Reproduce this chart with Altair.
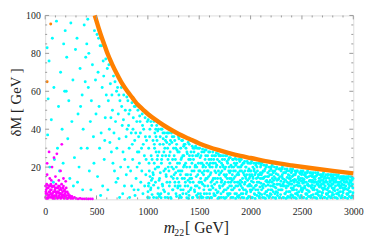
import altair as alt
import pandas as pd

# ---- data ----
cyan_points = [
    (19,83),(38,76),(29,56),(24,37),(70,88),(85,62),(60,45),(90,24),(45,20),(80,12),
    (110,97),(150,70),(130,52),(180,85),(165,40),(120,30),(190,60),(140,18),(175,22),(195,92),
    (210,78),(230,55),(250,96),(270,66),(220,35),(260,44),(285,25),(240,14),(295,82),(275,10),(205,60),
    (310,88),(320,48),(340,72),(360,58),(380,95),(350,30),(330,20),(370,40),(390,65),(315,12),(365,8),(395,78),(345,52),
    (405,85),(420,62),(440,44),(460,74),(480,92),(410,30),(430,18),(450,55),(470,36),(490,66),(415,98),(445,8),(475,22),(495,48),(425,80),
    (505,90),(515,70),(525,52),(535,84),(545,38),(555,62),(565,76),(575,24),(585,46),(595,58),(510,15),(530,30),(550,84),(560,10),(570,68),(590,77),(540,5),(580,34),(520,88),
    (605,72),(615,55),(625,40),(635,64),(645,28),(655,50),(665,68),(675,18),(685,44),(695,60),(610,8),(630,33),(650,58),(660,22),(670,38),(690,12),(620,74),(640,46),(680,65),(698,30),
    (705,62),(712,48),(720,35),(728,55),(735,20),(742,62),(750,42),(758,28),(765,58),(772,10),(780,50),(788,36),(795,57),(708,14),(725,4),(745,52),(762,45),(775,24),(790,16),(798,40),(718,58),(755,6),
    (805,55),(812,42),(818,30),(825,50),(832,18),(838,38),(845,54),(852,24),(858,46),(865,8),(872,34),(878,52),(885,14),(892,44),(898,28),(808,20),(822,4),(842,10),(855,40),(868,52),(882,38),(895,20),(815,48),(848,32),(875,5),
    (903,50),(910,36),(917,22),(924,44),(931,12),(938,30),(945,48),(952,6),(959,40),(966,26),(973,46),(980,16),(987,34),(994,44),(906,8),(913,28),(927,38),(941,18),(955,32),(969,10),(983,24),(997,4),(920,47),(948,42),(976,36),
    (1003,45),(1008,30),(1014,18),(1020,40),(1026,8),(1032,26),(1038,42),(1044,14),(1050,34),(1056,4),(1062,22),(1068,38),(1074,12),(1080,28),(1086,42),(1092,20),(1098,6),(1005,10),(1017,36),(1029,44),(1041,24),(1053,16),(1065,30),(1077,40),(1089,34),(1095,26),(1011,22),(1059,44),
    (1103,40),(1108,28),(1114,14),(1120,36),(1126,6),(1132,22),(1138,40),(1144,10),(1150,32),(1156,18),(1162,38),(1168,4),(1174,26),(1180,36),(1186,12),(1192,30),(1198,20),(1105,20),(1117,32),(1129,40),(1141,26),(1153,8),(1165,30),(1177,16),(1189,38),(1111,4.5),(1147,38),(1171,34),
    (1203,38),(1208,26),(1214,12),(1220,34),(1226,3.5),(1232,20),(1238,36),(1244,8),(1250,30),(1256,16),(1262,34),(1268,24),(1274,6),(1280,32),(1286,14),(1292,28),(1298,36),(1205,18),(1217,28),(1229,38),(1241,24),(1253,36),(1265,10),(1277,20),(1289,22),(1211,32),(1247,14),(1271,30),(1295,10),
    (1303,35),(1308,22),(1314,10),(1320,30),(1326,4),(1332,18),(1338,34),(1344,8),(1350,26),(1356,14),(1362,32),(1368,22),(1374,6),(1380,28),(1386,16),(1392,33),(1398,24),(1305,28),(1317,16),(1329,34),(1341,26),(1353,32),(1365,12),(1377,20),(1389,10),(1311,5),(1347,20),(1371,30),(1395,3.5),(1323,24),
    (1403,32),(1408,20),(1414,8),(1420,28),(1426,14),(1432,31),(1438,4),(1444,24),(1450,18),(1456,30),(1462,10),(1468,26),(1474,5),(1480,30),(1486,16),(1492,22),(1498,12),(1405,26),(1417,16),(1429,22),(1441,30),(1453,8),(1465,31),(1477,20),(1489,6),(1411,12),(1435,26),(1459,20),(1483,26),(1495,30),
    (1503,30),(1507,18),(1512,6),(1517,26),(1522,12),(1527,22),(1532,29.5),(1537,4),(1542,16),(1547,28),(1552,10),(1557,24),(1562,20),(1567,29),(1572,6),(1577,14),(1582,26),(1587,18),(1592,28),(1597,8),(1505,12),(1515,22),(1525,28),(1535,20),(1545,8),(1555,29),(1565,14),(1575,22),(1585,4),(1595,24),(1520,4.5),(1550,18),
    (1603,28),(1607,16),(1612,4),(1617,24),(1622,10),(1627,20),(1632,28),(1637,14),(1642,6),(1647,26),(1652,18),(1657,22),(1662,8),(1667,27.5),(1672,12),(1677,24),(1682,3.5),(1687,18),(1692,26),(1697,10),(1605,20),(1615,12),(1625,26),(1635,22),(1645,5),(1655,14),(1665,20),(1675,6.5),(1685,27),(1695,16),(1610,8),(1660,26),
    (1703,26),(1707,14),(1712,6),(1717,22),(1722,18),(1727,10),(1732,26),(1737,4),(1742,16),(1747,24),(1752,12),(1757,20),(1762,8),(1767,26),(1772,14),(1777,22),(1782,5),(1787,18),(1792,25),(1797,10),(1705,20),(1715,12),(1725,24),(1735,20),(1745,8),(1755,26),(1765,16),(1775,6),(1785,24),(1795,14),(1710,26),(1750,3.5),(1790,20),
    (1803,25),(1807,12),(1812,4),(1817,20),(1822,16),(1827,8),(1832,24),(1837,14),(1842,22),(1847,6),(1852,18),(1857,10),(1862,24),(1867,16),(1872,4.5),(1877,20),(1882,12),(1887,24),(1892,8),(1897,18),(1805,18),(1815,8),(1825,24),(1835,20),(1845,12),(1855,3.5),(1865,22),(1875,10),(1885,16),(1895,23),(1810,14),(1850,24.5),(1890,5),
    (1903,24),(1907,10),(1912,18),(1917,4),(1922,14),(1927,22),(1932,8),(1937,16),(1942,23),(1947,12),(1952,20),(1957,6),(1962,16),(1967,23),(1972,10),(1977,18),(1982,4.5),(1987,14),(1992,22),(1997,8),(1905,20),(1915,12),(1925,6),(1935,22),(1945,18),(1955,14),(1965,3.5),(1975,22),(1985,10),(1995,18),(1910,24),(1950,8),(1990,16),
    (2003,22),(2007,10),(2012,16),(2017,4),(2022,20),(2027,12),(2032,22),(2037,6),(2042,16),(2047,10),(2052,21),(2057,14),(2062,5),(2067,18),(2072,8),(2077,22),(2082,12),(2087,16),(2092,6),(2097,20),(2005,18),(2015,8),(2025,14),(2035,18),(2045,3.5),(2055,22),(2065,12),(2075,16),(2085,4.5),(2095,14),(2010,23),(2050,8),(2090,22),
    (2103,21),(2107,8),(2112,14),(2117,4),(2122,18),(2127,11),(2132,21),(2137,6),(2142,15),(2147,10),(2152,20),(2157,13),(2162,5),(2167,17),(2172,8),(2177,20),(2182,12),(2187,16),(2192,6),(2197,19),(2105,16),(2115,10),(2125,14),(2135,18),(2145,3.5),(2155,21),(2165,12),(2175,15),(2185,4.5),(2195,10),(2110,22),(2150,7),(2190,20),
    (2203,20),(2207,8),(2212,14),(2217,4),(2222,17),(2227,11),(2232,20),(2237,6),(2242,14),(2247,9),(2252,19),(2257,13),(2262,5),(2267,16),(2272,8),(2277,19),(2282,11),(2287,15),(2292,5.5),(2297,18),(2205,16),(2215,10),(2225,13),(2235,18),(2245,3.5),(2255,20),(2265,11),(2275,14),(2285,4),(2295,10),(2210,21),(2250,7),(2290,19),
    (2303,19),(2307,8),(2312,14),(2317,4),(2322,17),(2327,10),(2332,19),(2337,6),(2342,13),(2347,9),(2352,18),(2357,12),(2362,4.5),(2367,16),(2372,7),(2377,18),(2382,11),(2387,14),(2392,5),(2397,17),(2305,15),(2315,10),(2325,12),(2335,17),(2345,3.5),(2355,19),(2365,10),(2375,14),(2385,4),(2395,9),(2310,20),(2350,7),(2390,19),
    (2403,18),(2407,8),(2412,13),(2417,4),(2422,16),(2427,10),(2432,18),(2437,6),(2442,13),(2447,8),(2452,18),(2457,12),(2462,5),(2467,15),(2472,7),(2477,17),(2482,10),(2487,14),(2492,5),(2497,16),(2405,15),(2415,9),(2425,12),(2435,16),(2445,3.5),(2455,18),(2465,10),(2475,13),(2485,4),(2495,9),(2410,19),(2450,6),(2490,18),
    (2503,17),(2507,8),(2512,13),(2517,4),(2522,16),(2527,10),(2532,17),(2537,6),(2542,12),(2547,8),(2552,17),(2557,11),(2562,4.5),(2567,15),(2572,7),(2577,17),(2582,10),(2587,13),(2592,5),(2597,15),(2505,14),(2515,9),(2525,12),(2535,15),(2545,3.5),(2555,18),(2565,10),(2575,13),(2585,4),(2595,9),(2510,18),(2550,6),(2590,17),
    (2603,16),(2607,8),(2612,12),(2617,4),(2622,15),(2627,10),(2632,17),(2637,6),(2642,12),(2647,8),(2652,16),(2657,11),(2662,5),(2667,14),(2672,7),(2677,16),(2682,10),(2687,13),(2692,5),(2697,15),(2605,13),(2615,9),(2625,12),(2635,15),(2645,3.5),(2655,17),(2665,10),(2675,12),(2685,4),(2695,9),(2610,17),(2650,6),(2690,16),
    (2703,16),(2707,8),(2712,12),(2717,4),(2722,15),(2727,10),(2732,16),(2737,6),(2742,12),(2747,8),(2752,16),(2757,11),(2762,4.5),(2767,14),(2772,7),(2777,16),(2782,10),(2787,13),(2792,5),(2797,14),(2705,13),(2715,9),(2725,12),(2735,14),(2745,3.5),(2755,16),(2765,10),(2775,12),(2785,4),(2795,9),(2710,17),(2750,6),(2790,16),
    (2803,15),(2807,8),(2812,12),(2817,4),(2822,14),(2827,10),(2832,16),(2837,6),(2842,12),(2847,8),(2852,15),(2857,11),(2862,5),(2867,14),(2872,7),(2877,15),(2882,10),(2887,13),(2892,5),(2897,14),(2805,13),(2815,9),(2825,12),(2835,14),(2845,3.5),(2855,16),(2865,10),(2875,12),(2885,4),(2895,9),(2810,16),(2850,6),(2890,15),
    (2903,15),(2907,8),(2912,12),(2917,4),(2922,14),(2927,10),(2932,15),(2937,6),(2942,12),(2947,8),(2952,15),(2957,11),(2962,4.5),(2967,13),(2972,7),(2977,15),(2982,10),(2987,13),(2992,5),(2997,14),(2905,13),(2915,9),(2925,12),(2935,14),(2945,3.5),(2955,15),(2965,10),(2975,12),(2985,4),(2995,9),(2910,15),(2950,6),(2990,14),
]

cyan_extra = [
    (1001,7),(1009,11.5),(1014,3.8),(1021,15),(1029,9),(1034,13),(1041,5.5),(1049,17),(1056,10.5),(1063,32),(1071,19),(1079,36),(1084,3.8),(1091,24),(1096,39),
    (1101,9),(1109,13),(1114,5.5),(1121,17),(1129,3.8),(1134,24),(1141,11),(1149,35),(1156,28),(1163,7),(1171,19),(1179,15),(1184,33),(1191,4),(1196,24),
    (1201,6),(1209,10),(1214,22),(1221,4),(1229,15),(1234,33),(1241,8),(1249,19),(1256,26),(1263,12),(1271,17),(1279,4.5),(1284,29),(1291,9),(1296,18),
    (1301,12),(1309,4),(1314,18),(1321,8),(1329,25),(1334,14),(1341,6),(1349,31),(1356,21),(1363,10),(1371,16),(1379,3.8),(1384,27),(1391,13),(1396,7),
    (1401,5),(1409,14),(1414,24),(1421,9),(1429,18),(1434,3.8),(1441,12),(1449,28),(1456,7),(1463,21),(1471,15),(1479,10),(1484,4),(1491,27),(1496,18),
    (1501,9),(1509,25),(1514,14),(1521,3.8),(1529,17),(1534,11),(1541,21),(1549,6),(1556,13),(1563,26),(1571,3.8),(1579,18),(1584,10),(1591,15),(1596,21),
    (1601,6),(1609,22),(1614,17),(1621,3.8),(1629,13),(1634,9),(1641,24),(1649,11),(1656,5),(1663,17),(1671,21),(1679,14),(1684,7),(1691,4),(1696,23),
    (1701,9),(1709,17),(1714,4),(1721,13),(1729,21),(1734,7),(1741,11),(1749,19),(1756,15),(1763,4),(1771,23),(1779,9),(1784,12),(1791,6),(1796,17),
    (1801,6),(1809,21),(1814,10),(1821,13),(1829,4),(1834,18),(1841,9),(1849,15),(1856,21),(1863,6),(1871,12),(1879,17),(1884,4),(1891,20),(1896,11),
    (1901,13),(1909,6),(1914,21),(1921,9),(1929,17),(1934,3.8),(1941,11),(1949,15),(1956,20),(1963,7),(1971,13),(1979,4),(1984,19),(1991,11),(1996,15),
    (2001,7),(2009,12.5),(2014,3.8),(2021,15),(2029,9),(2034,19),(2041,5.5),(2049,17),(2056,10.5),(2063,20),(2071,14.5),(2079,6.5),(2084,3.8),(2091,9.5),(2096,17),
    (2101,11.5),(2109,5.5),(2114,17),(2121,9),(2129,14.5),(2134,3.8),(2141,19),(2149,12.5),(2156,7),(2163,15),(2171,10.5),(2179,3.8),(2184,18),(2191,13),(2196,8),
    (2201,5.5),(2209,12),(2214,18),(2221,7),(2229,15),(2234,9.5),(2241,3.8),(2249,16.5),(2256,11),(2263,6.5),(2271,13.5),(2279,3.8),(2284,19),(2291,8),(2296,12.5),
    (2301,8),(2309,16),(2314,11),(2321,3.8),(2329,13.5),(2334,6),(2341,17),(2349,10),(2356,14.5),(2363,4),(2371,11.5),(2379,15.5),(2384,7),(2391,12.5),(2396,5.5),
    (2401,11),(2409,5),(2414,15.5),(2421,8),(2429,13.5),(2434,3.8),(2441,17),(2449,10.5),(2456,6.5),(2463,14),(2471,11.5),(2479,3.8),(2484,16.5),(2491,8),(2496,12.5),
    (2501,7),(2509,11.5),(2514,3.8),(2521,13.5),(2529,9),(2534,16),(2541,5.5),(2549,14.5),(2556,10.5),(2563,7.5),(2571,12.5),(2579,4.5),(2584,15.5),(2591,9.5),(2596,12),
    (2601,10.5),(2609,5.5),(2614,14.5),(2621,8),(2629,13.5),(2634,3.8),(2641,15.5),(2649,11),(2656,7),(2663,12.5),(2671,9.5),(2679,3.8),(2684,14.5),(2691,11),(2696,6.5),
    (2701,6.5),(2709,11),(2714,14),(2721,4),(2729,8.5),(2734,12.5),(2741,5.5),(2749,14.5),(2756,9),(2763,7),(2771,12.5),(2779,3.8),(2784,15),(2791,11),(2796,6.5),
    (2801,11),(2809,5.5),(2814,14),(2821,7.5),(2829,12.5),(2834,3.8),(2841,15),(2849,10.5),(2856,6.5),(2863,12),(2871,9),(2879,3.8),(2884,14.5),(2891,11),(2896,7),
    (2901,6.5),(2909,10.5),(2914,14),(2921,4),(2929,8.5),(2934,12.5),(2941,5.5),(2949,14),(2956,9),(2963,7),(2971,12),(2979,3.8),(2984,14.5),(2991,11),(2996,6.5),
]

magenta_points = [
    (19,22),(38,28),(67,20),(86,25),(114,27),(162,32),(133,13),(200,12.5),(19,16),(45,14),(100,15),(150,18),(178,14),(60,13),
    (5,4),(10,8),(15,11),(20,6),(25,3.5),(30,9),(35,5),(40,10),(45,7),(50,4),(55,11),(60,8),(65,5),(70,9.5),(75,3.5),(80,7),
    (85,10),(90,5),(95,8),(100,4),(105,11),(110,6),(115,9),(120,3.5),(125,7),(130,10),(135,5),(140,8),(145,4),(150,9),(155,6),
    (160,11),(165,4),(170,7),(175,9),(180,5),(185,3.5),(190,8),(195,6),(200,4),(205,9),(210,5),(215,7),(220,3.5),(225,6),(230,4),
    (240,5),(250,3.5),(260,4.5),(270,3.5),(285,4),(300,3.5),(320,3.3),(340,3.5),(360,3.3),(380,3.3),(400,3.3),(420,3.2),(440,3.3),(460,3.2),
    (8,6),(18,9),(28,5),(38,7),(48,10),(58,6),(68,4),(78,10),(88,7),(98,9),(108,5),(118,7),(128,4),(138,10),(148,6),(158,8),
    (168,5),(178,10),(188,5),(198,7),(12,3.5),(32,4),(52,8),(72,6),(92,3.5),(112,4),(132,6.5),(152,3.5),(172,5.5),(192,4),
    (3,10),(7,7),(22,10.5),(42,5.5),(62,10),(82,4.5),(102,7),(122,9),(142,6),(162,5),(182,7.5),(212,3.5),(232,5),(245,4),
]

orange_m22 = [483, 500, 520, 550, 580, 610, 650, 700, 750, 800, 850, 900, 950, 1000, 1100, 1200, 1300,
              1400, 1500, 1600, 1700, 1800, 1900, 2000, 2200, 2400, 2600, 2800, 3000]
orange_dM = [100, 97, 93.5, 88.5, 84, 79.5, 74.5, 69, 64, 60, 56.5, 53, 50.5, 48, 44, 40.5, 37.5,
             35, 32.5, 30.5, 28.8, 27.2, 25.9, 24.8, 22.6, 20.9, 19.4, 18, 16.7]
orange_stray = [(54, 95.5), (19, 65)]

x_major = [0, 500, 1000, 1500, 2000, 2500, 3000]
x_minor = [v for v in range(100, 3000, 100) if v % 500 != 0]
y_major = [20, 40, 60, 80, 100]
y_minor = [5, 10, 15, 25, 30, 35, 45, 50, 55, 65, 70, 75, 85, 90, 95]

W, H = 315, 188
SERIF = "Liberation Serif"
XDOM = [0, 3000]
YDOM = [3, 100]

cyan_df = pd.DataFrame(cyan_points + cyan_extra, columns=["m22", "dM"])
mag_df = pd.DataFrame(magenta_points, columns=["m22", "dM"])
or_df = pd.DataFrame({"m22": orange_m22, "dM": orange_dM})
or_stray_df = pd.DataFrame(orange_stray, columns=["m22", "dM"])

xs = alt.Scale(domain=XDOM, nice=False, zero=False)
ys = alt.Scale(domain=YDOM, nice=False, zero=False)

xaxis = alt.Axis(values=x_major, format="d", ticks=False, domain=False, grid=False, labelFont=SERIF,
                 labelFontSize=10, labelColor="#222", labelPadding=7, title=None, labelFlush=False)
yaxis = alt.Axis(values=y_major, format="d", ticks=False, domain=False, grid=False, labelFont=SERIF,
                 labelFontSize=10, labelColor="#222", labelPadding=5, title=None, labelFlush=False)

X = alt.X("m22:Q", scale=xs, axis=xaxis)
Y = alt.Y("dM:Q", scale=ys, axis=yaxis)

cyan = alt.Chart(cyan_df).mark_point(filled=True, shape="circle", size=9, opacity=1, color="#00FFFF").encode(x=X, y=Y)
orange_line = alt.Chart(or_df).mark_line(color="#FF8000", strokeWidth=4.5, interpolate="monotone").encode(
    x=alt.X("m22:Q", scale=xs), y=alt.Y("dM:Q", scale=ys))
orange_pts = alt.Chart(or_stray_df).mark_point(filled=True, shape="circle", size=9, opacity=1, color="#FF8000").encode(
    x=alt.X("m22:Q", scale=xs), y=alt.Y("dM:Q", scale=ys))
magenta = alt.Chart(mag_df).mark_point(filled=True, shape="circle", size=8, opacity=1, color="#FF00FF").encode(
    x=alt.X("m22:Q", scale=xs), y=alt.Y("dM:Q", scale=ys))

tick_col = "#999999"
xmaj_df = pd.DataFrame({"m22": x_major})
xmin_df = pd.DataFrame({"m22": x_minor})
ymaj_df = pd.DataFrame({"dM": y_major})
ymin_df = pd.DataFrame({"dM": y_minor})

def xticks(df, length, bottom=True):
    y0 = H if bottom else 0
    y1 = H - length if bottom else length
    return alt.Chart(df).mark_rule(color=tick_col, strokeWidth=1).encode(
        x=alt.X("m22:Q", scale=xs), y=alt.value(y0), y2=alt.value(y1))

def yticks(df, length, left=True):
    x0 = 0 if left else W
    x1 = length if left else W - length
    return alt.Chart(df).mark_rule(color=tick_col, strokeWidth=1).encode(
        y=alt.Y("dM:Q", scale=ys), x=alt.value(x0), x2=alt.value(x1))

ticks = [xticks(xmaj_df, 4, True), xticks(xmin_df, 2, True), xticks(xmaj_df, 4, False), xticks(xmin_df, 2, False),
         yticks(ymaj_df, 4, True), yticks(ymin_df, 2, True), yticks(ymaj_df, 4, False), yticks(ymin_df, 2, False)]

title_m = alt.Chart(pd.DataFrame({"t": ["m"]})).mark_text(font=SERIF, fontSize=16, fontStyle="italic", align="center",
    baseline="alphabetic", color="#222").encode(text="t:N", x=alt.value(127), y=alt.value(222))
title_sub = alt.Chart(pd.DataFrame({"t": ["22"]})).mark_text(font=SERIF, fontSize=10, align="left",
    baseline="alphabetic", color="#222").encode(text="t:N", x=alt.value(132), y=alt.value(225))
title_gev = alt.Chart(pd.DataFrame({"t": ["[ GeV]"]})).mark_text(font=SERIF, fontSize=16, align="left",
    baseline="alphabetic", color="#222").encode(text="t:N", x=alt.value(143), y=alt.value(222))
title_y = alt.Chart(pd.DataFrame({"t": ["δM [ GeV ]"]})).mark_text(font=SERIF, fontSize=15, align="center",
    baseline="middle", angle=270, color="#222").encode(text="t:N", x=alt.value(-30), y=alt.value(89))

chart = alt.layer(cyan, orange_line, orange_pts, magenta, *ticks, title_m, title_sub, title_gev, title_y).properties(
    width=W, height=H, autosize=alt.AutoSizeParams(type="none"),
    padding={"left": 38, "top": 5, "right": 13, "bottom": 42},
).configure_view(stroke="#999999", strokeWidth=1).configure_axis(labelFont=SERIF).configure(background="white")

chart.save("out.html", embed_options={"renderer": "svg", "actions": False})
